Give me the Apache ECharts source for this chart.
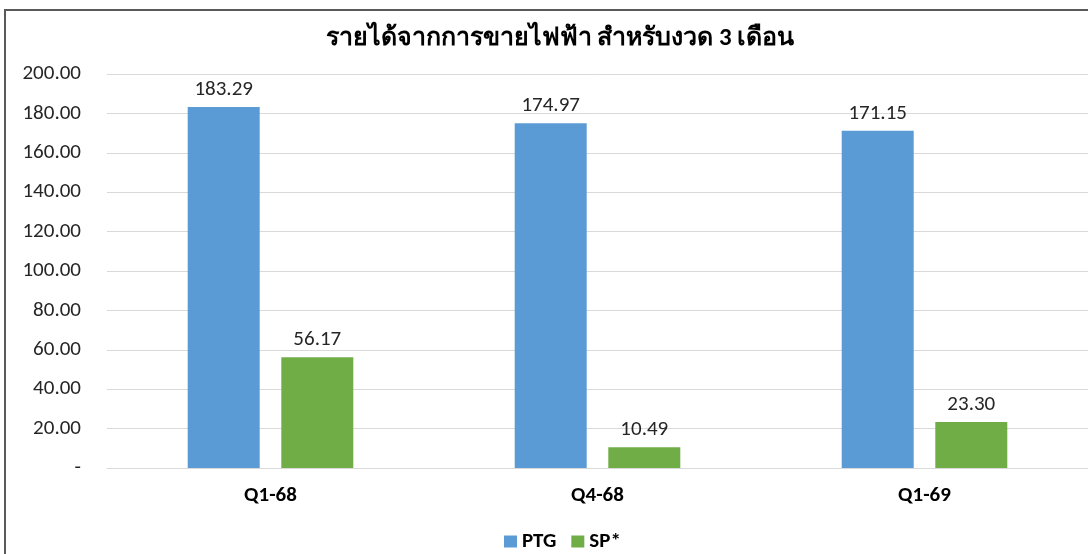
<!DOCTYPE html>
<html><head><meta charset="utf-8">
<script src="https://cdn.jsdelivr.net/npm/echarts@6/dist/echarts.min.js"></script>
<style>html,body{margin:0;padding:0;background:#fff}#c{width:1088px;height:554px}</style>
</head><body><div id="c"></div>
<script>
const categories = ['Q1-68', 'Q4-68', 'Q1-69'];
const ptg = [183.29, 174.97, 171.15];
const sp = [56.17, 10.49, 23.30];
const seriesNames = ['PTG', 'SP*'];
const titleText = 'รายได้จากการขายไฟฟ้า สำหรับงวด 3 เดือน';

const chart = echarts.init(document.getElementById('c'), null, {renderer: 'canvas'});
const font = 'Carlito, Calibri, "Liberation Sans", "Noto Sans", sans-serif';
const lbl = {show: true, position: 'top', distance: 7, color: '#262626', fontSize: 21, fontFamily: font,
  formatter: p => p.value.toFixed(2)};
chart.setOption({
  animation: false,
  graphic: [{type: 'rect', shape: {x: 5, y: 10, width: 1100, height: 560},
    style: {fill: 'none', stroke: '#595959', lineWidth: 2}}],
  title: {text: titleText, left: 555, top: 21, textAlign: 'center',
    textStyle: {fontSize: 25, fontWeight: 'bold', color: '#000', fontFamily: font}},
  legend: {top: 526, left: 499, itemWidth: 13, itemHeight: 12, itemGap: 15, icon: 'rect',
    textStyle: {fontSize: 21, fontWeight: 'bold', color: '#000', fontFamily: font}},
  grid: {left: 107, right: 0, top: 74, bottom: 86, containLabel: false},
  xAxis: {type: 'category', data: categories,
    axisLine: {lineStyle: {color: '#d9d9d9'}}, axisTick: {show: false},
    axisLabel: {margin: 17, fontSize: 21, fontWeight: 'bold', color: '#000', fontFamily: font}},
  yAxis: {type: 'value', min: 0, max: 200, interval: 20,
    axisLine: {show: false}, axisTick: {show: false},
    splitLine: {lineStyle: {color: '#d9d9d9'}},
    axisLabel: {margin: 26, fontSize: 21, color: '#262626', fontFamily: font,
      formatter: v => v === 0 ? '-' : v.toFixed(2)}},
  series: [
    {name: seriesNames[0], type: 'bar', data: ptg, barWidth: 72, barGap: '30%',
      itemStyle: {color: '#5b9bd5'}, label: lbl},
    {name: seriesNames[1], type: 'bar', data: sp, barWidth: 72,
      itemStyle: {color: '#70ad47'}, label: lbl}
  ]
});
</script></body></html>
